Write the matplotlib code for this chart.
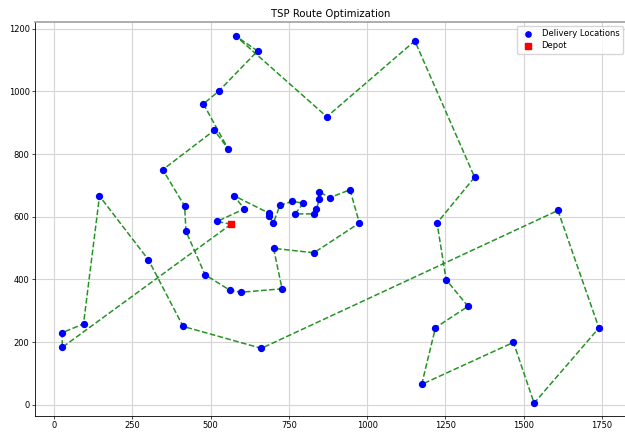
import matplotlib
matplotlib.use('Agg')
import matplotlib.pyplot as plt

# Depot location
depot_x = [565]
depot_y = [576]

# Delivery locations, listed in the order the optimized route visits them
location_x = [26, 26, 94, 145, 301, 412, 662, 1609, 1740, 1533, 1467, 1174,
              1218, 1322, 1252, 1223, 1343, 1152, 871, 581, 650, 526, 477, 556,
              512, 347, 417, 421, 482, 562, 597, 728, 701, 830, 975, 945, 881,
              847, 847, 838, 831, 770, 796, 760, 721, 700, 687, 687, 575, 607, 521]
location_y = [183, 230, 258, 666, 463, 250, 180, 620, 245, 5, 199, 65,
              246, 314, 399, 580, 726, 1161, 919, 1176, 1129, 1001, 960, 816,
              876, 750, 634, 554, 415, 365, 359, 370, 499, 485, 580, 686, 661,
              679, 656, 624, 609, 609, 643, 649, 636, 579, 603, 611, 667, 625, 585]

# Full tour: start at depot, visit all locations, come back to depot
route_x = depot_x + location_x + depot_x
route_y = depot_y + location_y + depot_y

x_ticks = [0, 250, 500, 750, 1000, 1250, 1500, 1750]
y_ticks = [0, 200, 400, 600, 800, 1000, 1200]

fig = plt.figure(figsize=(6.25, 4.32), dpi=100)
ax = fig.add_axes([35.3 / 625, 16.3 / 432, 591.5 / 625, 394.2 / 432])

ax.plot(route_x, route_y, 'g--', linewidth=1.1, alpha=0.85)
ax.scatter(location_x, location_y, c='blue', s=18, label='Delivery Locations', zorder=3)
ax.scatter(depot_x, depot_y, c='red', marker='s', s=18, label='Depot', zorder=4)

ax.set_xlim(-60, 1829)
ax.set_ylim(-35, 1223)
ax.set_xticks(x_ticks)
ax.set_yticks(y_ticks)
ax.tick_params(labelsize=6, length=2.1, width=0.5, pad=2)
ax.grid(True, color='#d5d5d5', linewidth=0.8)
ax.set_axisbelow(True)
for s in ['left', 'bottom']:
    ax.spines[s].set_linewidth(0.6)
ax.spines['top'].set_color('#a0a0a0')
ax.spines['top'].set_linewidth(1.2)

ax.set_title('TSP Route Optimization', fontsize=7.3, pad=3.5)
ax.legend(loc='upper right', fontsize=6, markerscale=0.9, handletextpad=0.6,
          borderpad=0.4, labelspacing=0.4)

fig.savefig('out.png', dpi=100)
